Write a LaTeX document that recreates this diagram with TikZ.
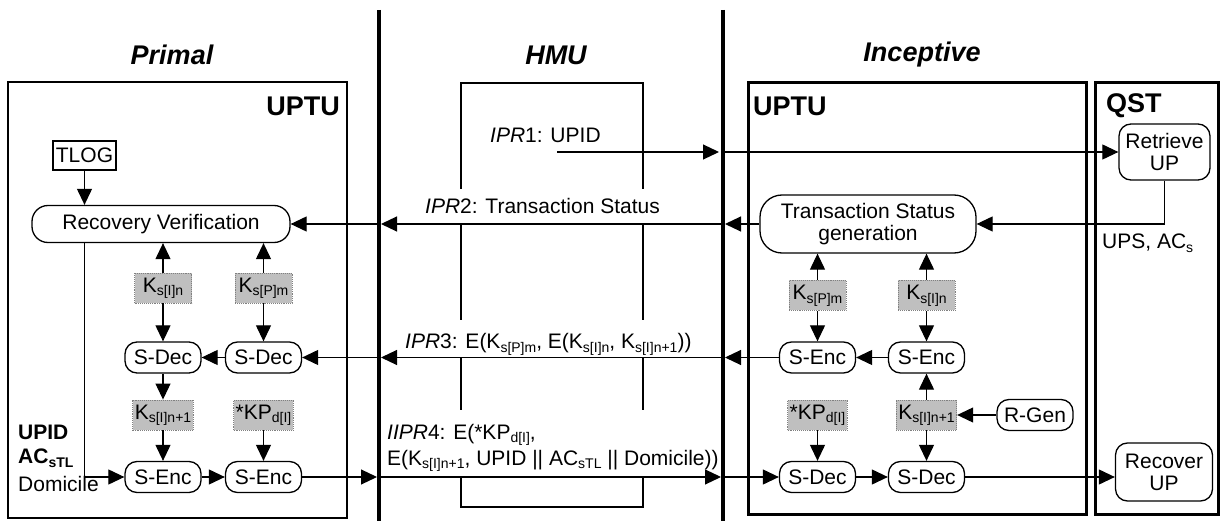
\documentclass[tikz,border=0pt]{standalone}
\usepackage{fontspec}
\setmainfont{Liberation Sans}
\usetikzlibrary{arrows.meta}
% small lowered index text used for key names
\newcommand\ksub[1]{\raisebox{-3.5pt}{\fontsize{14}{14}\selectfont #1}}
\begin{document}
\begin{tikzpicture}[x=1pt,y=-1pt,
  every node/.style={font=\fontsize{21}{22}\selectfont},
  arr/.style={line width=1.1pt,-{Triangle[length=16pt,width=15pt]}},
  proc/.style={draw,line width=1.3pt,rounded corners=12pt,align=center,inner sep=0pt,
               minimum width=76pt,minimum height=31pt},
  keybox/.style={draw=black!50,densely dotted,line width=0.9pt,fill=black!25,inner sep=2pt,
                 minimum width=57pt,minimum height=30pt},
  title/.style={font=\fontsize{27}{30}\selectfont\bfseries\itshape},
  unit/.style={font=\fontsize{27}{30}\selectfont\bfseries,inner sep=0pt},
  msg/.style={fill=white,inner xsep=0pt,align=left},
  lifeline/.style={line width=4pt},
]
\useasboundingbox (0,0) rectangle (1221,521);

% ---- frames ----
\draw[line width=2.2pt] (8,82) rectangle (347,518);
\draw[line width=2.4pt] (461,83) rectangle (643,507);
\draw[line width=3pt] (748,83) rectangle (1086,514);
\draw[line width=3pt] (1095,83) rectangle (1218,514);

% ---- column titles and unit names ----
\node[title] (tprimal) at (172,55) {Primal};
\node[title] (thmu) at (556,55) {HMU};
\node[title] (tincep) at (922,55) {Inceptive};
\node[unit,anchor=east] (uptu1) at (340,106) {UPTU};
\node[unit,anchor=west] (uptu2) at (753,106) {UPTU};
\node[unit,anchor=west] (qst) at (1106,106) {QST};

% ---- protocol messages ----
\node[msg,fill=none,anchor=west,inner sep=0pt] (m1) at (490,135) {\textit{IPR}1: UPID};
\node[msg,anchor=south west,minimum height=35pt] (m2) at (425,224) {\textit{IPR}2: Transaction Status};
\node[msg,anchor=south west,inner ysep=2pt] (m3) at (405,357.5)
  {\rule{0pt}{27pt}\textit{IPR}3: E(K\ksub{s[P]m}, E(K\ksub{s[I]n}, K\ksub{s[I]n+1}))};
\node[msg,anchor=south west,inner ysep=6pt,font=\fontsize{21}{26}\selectfont] (m4) at (387,478)
  {\rule{0pt}{23pt}\textit{IIPR}4: E(*KP\ksub{d[I]},\\E(K\ksub{s[I]n+1}, UPID || AC\ksub{sTL} || Domicile))};

% ---- lifelines ----
\coordinate (L1) at (379,10);
\coordinate (L1e) at (379,521);
\coordinate (L2) at (723,10);
\coordinate (L2e) at (723,521);
\draw[lifeline] (L1) -- (L1e);
\draw[lifeline] (L2) -- (L2e);

% ---- Primal UPTU ----
\node[draw,line width=1.3pt,minimum width=63pt,minimum height=29pt,inner sep=0pt] (tlog) at (84.5,155.5) {TLOG};
\node[proc,rounded corners=16pt,minimum width=258pt,minimum height=37pt] (rv) at (161,224) {Recovery Verification};
\node[keybox] (pk1) at (163,288) {K\ksub{s[I]n}};
\node[keybox] (pk2) at (263.5,288) {K\ksub{s[P]m}};
\node[proc] (pd1) at (163,357.5) {S-Dec};
\node[proc] (pd2) at (263.5,357.5) {S-Dec};
\node[keybox] (pk3) at (163,415) {K\ksub{s[I]n+1}};
\node[keybox] (pk4) at (263.5,415) {*KP\ksub{d[I]}};
\node[proc] (pe1) at (163,477) {S-Enc};
\node[proc] (pe2) at (263.5,477) {S-Enc};
\node[anchor=west,inner sep=0pt,font=\fontsize{21}{22}\selectfont\bfseries] (upid) at (18,432) {UPID};
\node[anchor=west,inner sep=0pt,font=\fontsize{21}{22}\selectfont\bfseries] (acstl) at (18,458) {AC\ksub{sTL}};
\node[anchor=west,inner sep=0pt] (dom) at (18,484) {Domicile};

% ---- Inceptive UPTU ----
\node[proc,rounded corners=22pt,minimum width=216pt,minimum height=58pt] (tsg) at (868,224) {Transaction Status\\generation};
\node[keybox] (ik1) at (817.5,295.5) {K\ksub{s[P]m}};
\node[keybox] (ik2) at (926.5,295.5) {K\ksub{s[I]n}};
\node[proc] (ie1) at (817.5,357.5) {S-Enc};
\node[proc] (ie2) at (926.5,357.5) {S-Enc};
\node[keybox] (ik3) at (817.5,415) {*KP\ksub{d[I]}};
\node[keybox] (ik4) at (926.5,415) {K\ksub{s[I]n+1}};
\node[proc] (rgen) at (1035,415) {R-Gen};
\node[proc] (id1) at (817.5,477) {S-Dec};
\node[proc] (id2) at (926.5,477) {S-Dec};

% ---- QST ----
\node[proc,minimum width=91pt,minimum height=56pt] (rup) at (1164.5,152) {Retrieve\\UP};
\node[proc,minimum width=97pt,minimum height=58pt] (rcv) at (1164,472) {Recover\\UP};
\node[anchor=west,inner sep=0pt] (ups) at (1102,243) {UPS, AC\ksub{s}};

% ---- Primal flows ----
\draw[arr] (tlog.south) -- (tlog.south |- rv.north);
\draw[arr] (pk1.north) -- (pk1.north |- rv.south);
\draw[arr] (pk2.north) -- (pk2.north |- rv.south);
\draw[arr] (pk1) -- (pd1);
\draw[arr] (pk2) -- (pd2);
\draw[arr] (pd2) -- (pd1);
\draw[arr] (pd1) -- (pk3);
\draw[arr] (pk3) -- (pe1);
\draw[arr] (pk4) -- (pe2);
\draw[arr] (pe1) -- (pe2);
\draw[arr] (rv.south -| tlog.south) |- (pe1.west);

% ---- Inceptive flows ----
\draw[arr] (ik1.north) -- (ik1.north |- tsg.south);
\draw[arr] (ik2.north) -- (ik2.north |- tsg.south);
\draw[arr] (ik1) -- (ie1);
\draw[arr] (ik2) -- (ie2);
\draw[arr] (ie2) -- (ie1);
\draw[arr] (ik4) -- (ie2);
\draw[arr] (ik4) -- (id2);
\draw[arr] (rgen) -- (ik4);
\draw[arr] (ik3) -- (id1);
\draw[arr] (id1) -- (id2);
\draw[arr] (id2.east) -- (id2.east -| rcv.west);
\draw[arr] (rup.south) |- (tsg.east);

% ---- messages across the lifelines ----
\coordinate (ipr1) at (557,152);
\draw[arr,shorten >=4pt] (ipr1) -- (ipr1 -| L2);
\draw[arr] (ipr1 -| L2) -- (rup.west);

\draw[arr,shorten >=2pt] (tsg.west) -- (tsg.west -| L2);
\draw[arr,shorten >=2pt] (tsg.west -| L2) -- (tsg.west -| L1);
\draw[arr] (tsg.west -| L1) -- (rv.east);

\draw[arr,shorten >=2pt] (ie1.west) -- (ie1.west -| L2);
\draw[arr,shorten >=2pt] (ie1.west -| L2) -- (ie1.west -| L1);
\draw[arr] (ie1.west -| L1) -- (pd2.east);

\draw[arr,shorten >=2pt] (pe2.east) -- (pe2.east -| L1);
\draw[arr,shorten >=2pt] (pe2.east -| L1) -- (pe2.east -| L2);
\draw[arr] (pe2.east -| L2) -- (id1.west);
\end{tikzpicture}
\end{document}
